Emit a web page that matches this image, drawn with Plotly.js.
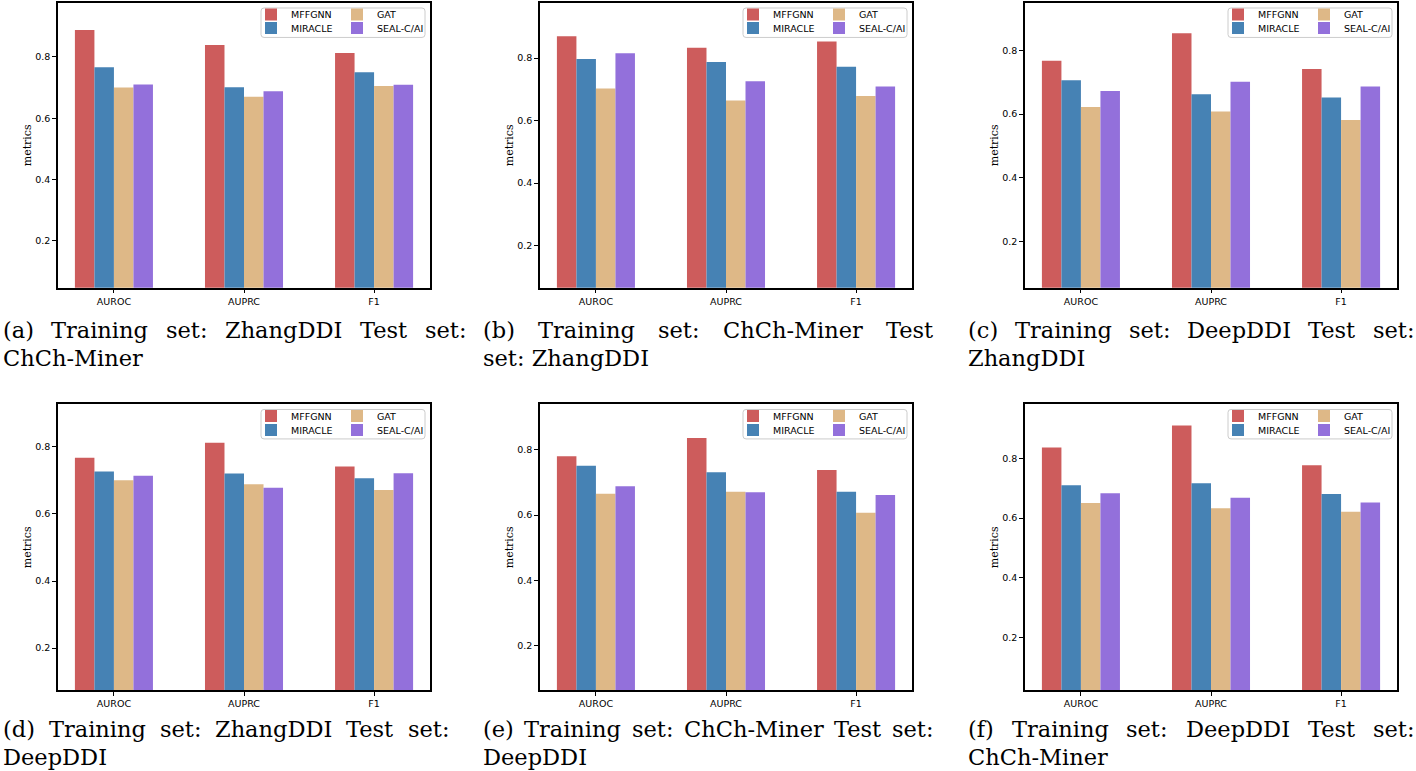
<!DOCTYPE html>
<html><head><meta charset="utf-8">
<script src="https://cdn.plot.ly/plotly-3.0.1.min.js"></script>
<style>html,body{margin:0;padding:0;background:#fff;} #chart{width:1416px;height:771px;}</style>
</head><body><div id="chart"></div>
<script>
// ---------------- data ----------------
const categories = ['AUROC', 'AUPRC', 'F1'];
const methods = ['MFFGNN', 'MIRACLE', 'GAT', 'SEAL-C/AI'];
const colors = ['#CD5C5C', '#4682B4', '#DEB887', '#9370DB'];

// (a) Training: ZhangDDI, Test: ChCh-Miner
const aMFFGNN  = [0.888, 0.839, 0.813];
const aMIRACLE = [0.766, 0.701, 0.750];
const aGAT     = [0.700, 0.670, 0.705];
const aSEAL    = [0.710, 0.688, 0.709];
// (b) Training: ChCh-Miner, Test: ZhangDDI
const bMFFGNN  = [0.870, 0.833, 0.853];
const bMIRACLE = [0.797, 0.787, 0.772];
const bGAT     = [0.703, 0.664, 0.679];
const bSEAL    = [0.815, 0.726, 0.709];
// (c) Training: DeepDDI, Test: ZhangDDI
const cMFFGNN  = [0.767, 0.853, 0.741];
const cMIRACLE = [0.706, 0.662, 0.652];
const cGAT     = [0.622, 0.608, 0.581];
const cSEAL    = [0.672, 0.701, 0.686];
// (d) Training: ZhangDDI, Test: DeepDDI
const dMFFGNN  = [0.767, 0.812, 0.741];
const dMIRACLE = [0.726, 0.720, 0.706];
const dGAT     = [0.700, 0.688, 0.671];
const dSEAL    = [0.714, 0.678, 0.721];
// (e) Training: ChCh-Miner, Test: DeepDDI
const eMFFGNN  = [0.780, 0.836, 0.738];
const eMIRACLE = [0.751, 0.731, 0.671];
const eGAT     = [0.665, 0.671, 0.607];
const eSEAL    = [0.688, 0.670, 0.661];
// (f) Training: DeepDDI, Test: ChCh-Miner
const fMFFGNN  = [0.836, 0.910, 0.777];
const fMIRACLE = [0.710, 0.717, 0.681];
const fGAT     = [0.651, 0.633, 0.621];
const fSEAL    = [0.683, 0.668, 0.652];

const captionLine1 = [
  '(a) Training set: ZhangDDI Test set:',
  '(b) Training set: ChCh-Miner Test',
  '(c) Training set: DeepDDI Test set:',
  '(d) Training set: ZhangDDI Test set:',
  '(e) Training set: ChCh-Miner Test set:',
  '(f) Training set: DeepDDI Test set:'
];
const captionLine2 = ['ChCh-Miner', 'set: ZhangDDI', 'ZhangDDI', 'DeepDDI', 'DeepDDI', 'ChCh-Miner'];
const yTickVals = [0.2, 0.4, 0.6, 0.8];
const yTitle = 'metrics';

const panelSeries = [
  [aMFFGNN, aMIRACLE, aGAT, aSEAL],
  [bMFFGNN, bMIRACLE, bGAT, bSEAL],
  [cMFFGNN, cMIRACLE, cGAT, cSEAL],
  [dMFFGNN, dMIRACLE, dGAT, dSEAL],
  [eMFFGNN, eMIRACLE, eGAT, eSEAL],
  [fMFFGNN, fMIRACLE, fGAT, fSEAL]
];

// ---------------- layout geometry (pixels) ----------------
const W = 1416, H = 771;
const colX = [[58, 430], [540, 912], [1025, 1397]];
const rowY = [[2, 287], [404, 690]];
const yRanges = [[0.047, 0.976], [0.066, 0.976], [0.056, 0.948], [0.075, 0.926], [0.063, 0.939], [0.025, 0.980]];
const capCols = [[2, 465], [482, 932], [967, 1413], [2, 448], [482, 932], [967, 1413]];
const capBase = [[336, 364], [736, 764]];

const px = x => x / W;
const py = y => 1 - y / H;

const tickFont = {family: 'DejaVu Sans', size: 9.5, color: '#000'};
const capFontSize = 22.5;
const capFamily = 'DejaVu Serif';

const canvas = document.createElement('canvas');
const ctx = canvas.getContext('2d');
function textW(t) { ctx.font = capFontSize + 'px "' + capFamily + '"'; return ctx.measureText(t).width; }

const data = [];
const layout = {
  width: W, height: H,
  margin: {l: 0, r: 0, t: 0, b: 0},
  paper_bgcolor: '#fff', plot_bgcolor: '#fff',
  barmode: 'group', bargap: 0.4, bargroupgap: 0,
  showlegend: true,
  annotations: [], shapes: []
};

for (let p = 0; p < 6; p++) {
  const c = p % 3, r = Math.floor(p / 3);
  const [xl, xr] = colX[c];
  const [yt, yb] = rowY[r];
  const sfx = p === 0 ? '' : String(p + 1);
  layout['xaxis' + sfx] = {
    domain: [px(xl), px(xr)], anchor: 'y' + sfx,
    type: 'category', categoryorder: 'array', categoryarray: categories,
    range: [-0.43, 2.43],
    showline: true, mirror: true, linecolor: '#000', linewidth: 1.5,
    ticks: 'outside', ticklen: 4, tickwidth: 1, tickcolor: '#000',
    showgrid: false, zeroline: false, tickfont: tickFont, fixedrange: true
  };
  layout['yaxis' + sfx] = {
    domain: [py(yb), py(yt)], anchor: 'x' + sfx,
    range: yRanges[p],
    tickvals: yTickVals, tickformat: '.1f',
    showline: true, mirror: true, linecolor: '#000', linewidth: 1.5,
    ticks: 'outside', ticklen: 4, tickwidth: 1, tickcolor: '#000',
    showgrid: false, zeroline: false, tickfont: tickFont, fixedrange: true,
    title: {text: yTitle, font: {family: capFamily, size: 11, color: '#000'}, standoff: 1}
  };
  for (let k = 0; k < 4; k++) {
    const n = p * 4 + k + 1;
    const lid = n === 1 ? 'legend' : 'legend' + n;
    data.push({
      type: 'bar', x: categories, y: panelSeries[p][k], name: methods[k],
      marker: {color: colors[k], line: {width: 0}},
      xaxis: 'x' + sfx, yaxis: 'y' + sfx, legend: lid, showlegend: true
    });
    const col = Math.floor(k / 2), row = k % 2;
    const textStart = xr - (col === 0 ? 139 : 53);
    layout[lid] = {
      x: px(textStart - 40), y: py(yt + (row === 0 ? 12 : 26)),
      xanchor: 'left', yanchor: 'middle', xref: 'paper', yref: 'paper',
      bgcolor: 'rgba(0,0,0,0)', borderwidth: 0, orientation: 'v',
      font: tickFont, itemwidth: 30, tracegroupgap: 0, itemclick: false, itemdoubleclick: false
    };
  }
  // legend frame (rounded)
  const x0 = px(xr - 169), x1 = px(xr - 5), y0 = py(yt + 5), y1 = py(yt + 34.5);
  const rx = 3 / W, ry = 3 / H;
  layout.shapes.push({
    type: 'path', xref: 'paper', yref: 'paper', layer: 'above',
    path: `M${x0 + rx},${y0} L${x1 - rx},${y0} Q${x1},${y0} ${x1},${y0 - ry} L${x1},${y1 + ry} Q${x1},${y1} ${x1 - rx},${y1} L${x0 + rx},${y1} Q${x0},${y1} ${x0},${y1 + ry} L${x0},${y0 - ry} Q${x0},${y0} ${x0 + rx},${y0} Z`,
    fillcolor: 'rgba(255,255,255,0.8)', line: {color: '#cccccc', width: 1}
  });

  // captions: justified first line, left-aligned second line
  const [cl, cr] = capCols[p];
  const words = captionLine1[p].split(' ');
  const widths = words.map(textW);
  const total = widths.reduce((s, v) => s + v, 0);
  const gap = (cr - cl - total) / (words.length - 1);
  let cx = cl;
  const capFont = {family: capFamily, size: capFontSize, color: '#000'};
  words.forEach((w, i) => {
    layout.annotations.push({
      text: w, x: px(cx), y: py(capBase[r][0] - 7), xref: 'paper', yref: 'paper',
      xanchor: 'left', yanchor: 'middle', showarrow: false, font: capFont, borderpad: 0
    });
    cx += widths[i] + gap;
  });
  layout.annotations.push({
    text: captionLine2[p], x: px(cl), y: py(capBase[r][1] - 7), xref: 'paper', yref: 'paper',
    xanchor: 'left', yanchor: 'middle', showarrow: false, font: capFont, borderpad: 0
  });
}

Plotly.newPlot('chart', data, layout, {displayModeBar: false, staticPlot: false});
</script>
</body></html>
